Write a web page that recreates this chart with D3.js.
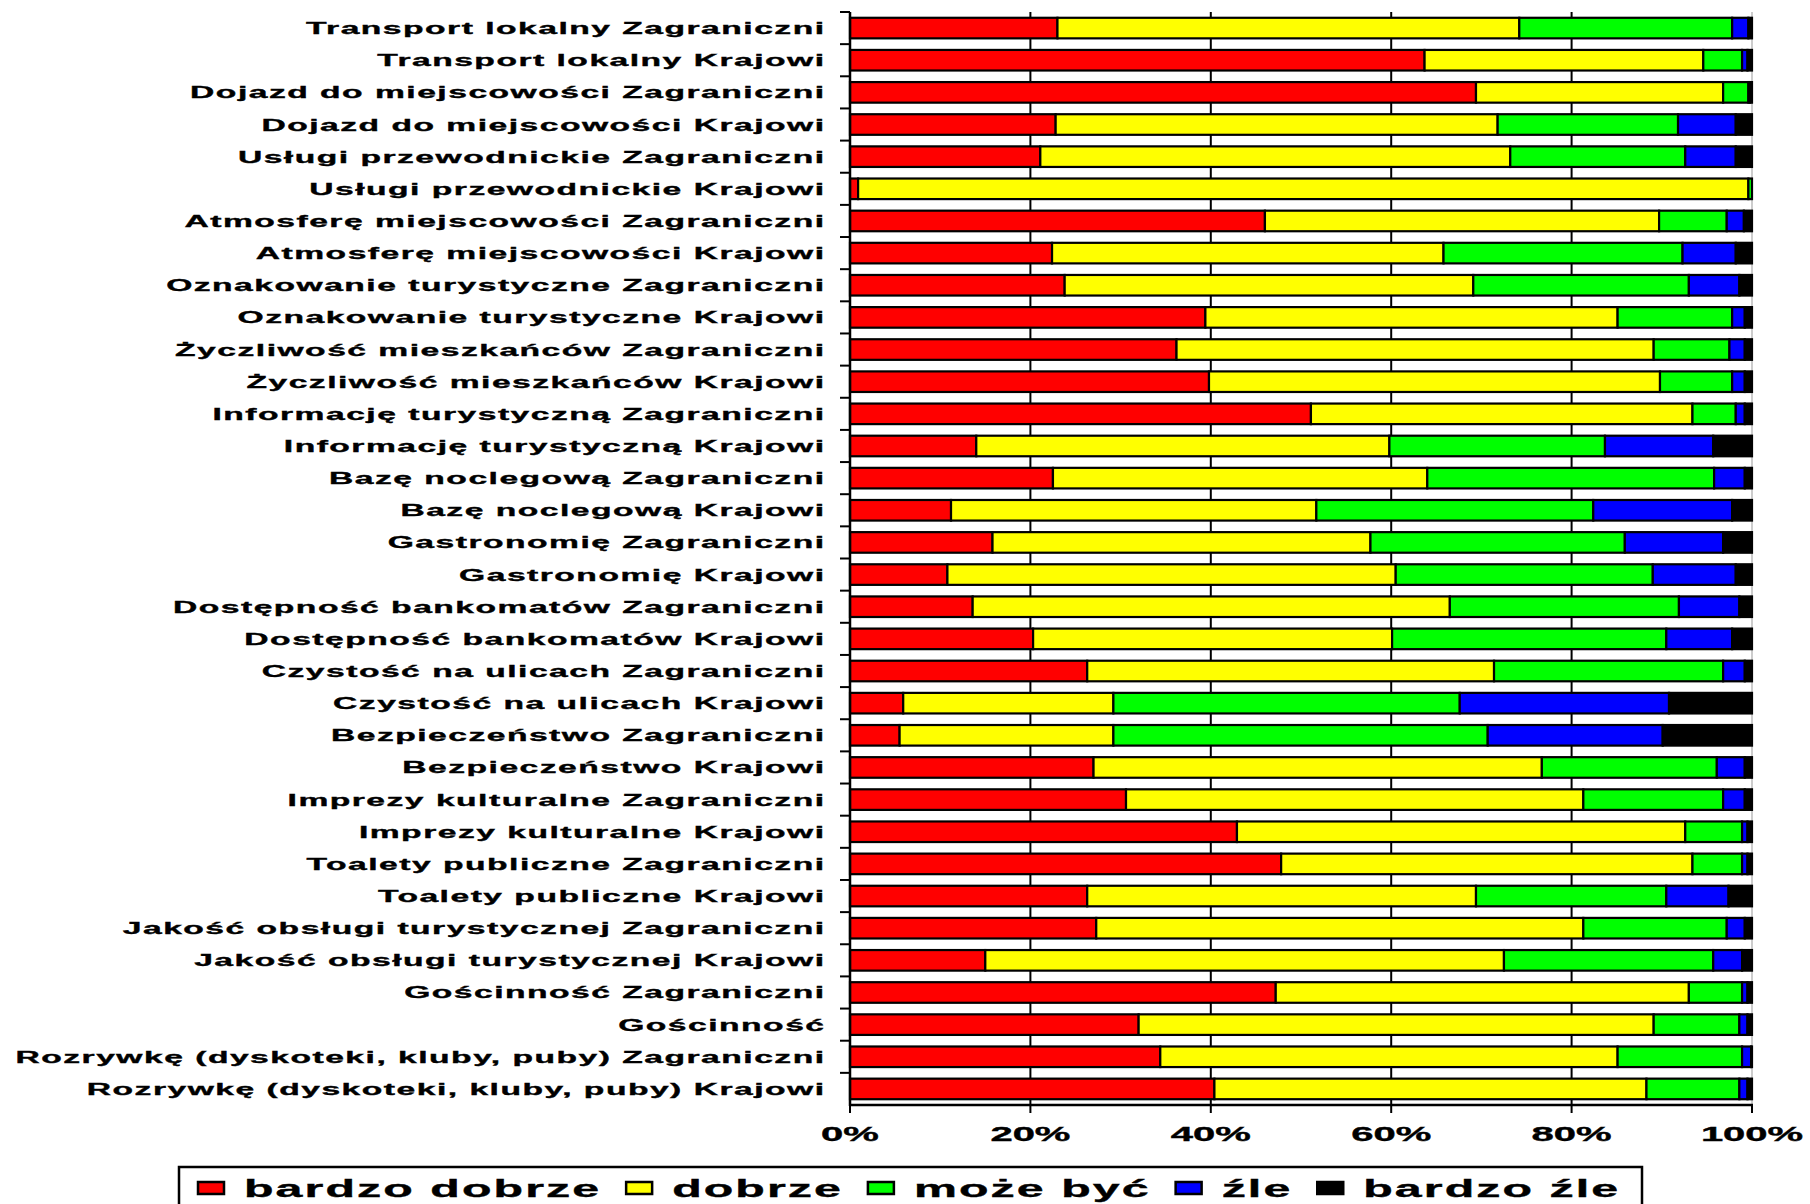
<!DOCTYPE html>
<html>
<head>
<meta charset="utf-8">
<script src="https://cdn.jsdelivr.net/npm/d3@7"></script>
<style>
  html, body { margin: 0; padding: 0; background: #fff; }
  svg { display: block; }
  text { font-family: "Liberation Sans", Arial, sans-serif; font-weight: bold; fill: #000; stroke: #000; stroke-width: 0.35px; }
</style>
</head>
<body>
<svg id="chart" width="1810" height="1204"></svg>
<script>
// ---------------- DATA ----------------
const categories = [
  "Transport lokalny Zagraniczni",
  "Transport lokalny Krajowi",
  "Dojazd do miejscowości Zagraniczni",
  "Dojazd do miejscowości Krajowi",
  "Usługi przewodnickie Zagraniczni",
  "Usługi przewodnickie Krajowi",
  "Atmosferę miejscowości Zagraniczni",
  "Atmosferę miejscowości Krajowi",
  "Oznakowanie turystyczne Zagraniczni",
  "Oznakowanie turystyczne Krajowi",
  "Życzliwość mieszkańców Zagraniczni",
  "Życzliwość mieszkańców Krajowi",
  "Informację turystyczną Zagraniczni",
  "Informację turystyczną Krajowi",
  "Bazę noclegową Zagraniczni",
  "Bazę noclegową Krajowi",
  "Gastronomię Zagraniczni",
  "Gastronomię Krajowi",
  "Dostępność bankomatów Zagraniczni",
  "Dostępność bankomatów Krajowi",
  "Czystość na ulicach Zagraniczni",
  "Czystość na ulicach Krajowi",
  "Bezpieczeństwo Zagraniczni",
  "Bezpieczeństwo Krajowi",
  "Imprezy kulturalne Zagraniczni",
  "Imprezy kulturalne Krajowi",
  "Toalety publiczne Zagraniczni",
  "Toalety publiczne Krajowi",
  "Jakość obsługi turystycznej Zagraniczni",
  "Jakość obsługi turystycznej Krajowi",
  "Gościnność Zagraniczni",
  "Gościnność",
  "Rozrywkę (dyskoteki, kluby, puby) Zagraniczni",
  "Rozrywkę (dyskoteki, kluby, puby) Krajowi"
];

const bardzoDobrze = [23.0, 63.7, 69.4, 22.8, 21.1, 0.9, 46.0, 22.4, 23.8, 39.4, 36.2, 39.8, 51.1, 14.0, 22.5, 11.2, 15.8, 10.8, 13.6, 20.3, 26.3, 5.9, 5.5, 27.0, 30.6, 42.9, 47.8, 26.3, 27.3, 15.0, 47.2, 32.0, 34.4, 40.4];
const dobrze       = [51.2, 30.9, 27.4, 49.0, 52.1, 98.7, 43.7, 43.4, 45.3, 45.7, 52.9, 50.0, 42.3, 45.8, 41.5, 40.5, 41.9, 49.7, 52.9, 39.8, 45.1, 23.3, 23.7, 49.7, 50.7, 49.7, 45.6, 43.1, 54.0, 57.5, 45.8, 57.1, 50.7, 47.9];
const mozeByc      = [23.6, 4.3, 2.8, 20.0, 19.4, 0.4, 7.5, 26.5, 23.9, 12.7, 8.4, 8.0, 4.8, 23.9, 31.8, 30.7, 28.2, 28.5, 25.4, 30.4, 25.4, 38.4, 41.5, 19.4, 15.5, 6.3, 5.5, 21.1, 15.9, 23.2, 5.9, 9.5, 13.8, 10.3];
const zle          = [1.8, 0.6, 0.2, 6.4, 5.6, 0.0, 1.9, 5.9, 5.6, 1.4, 1.7, 1.4, 1.0, 12.0, 3.4, 15.4, 10.9, 9.2, 6.7, 7.3, 2.4, 23.2, 19.4, 3.1, 2.4, 0.6, 0.6, 6.9, 2.0, 3.2, 0.6, 0.9, 1.0, 0.9];
const bardzoZle    = [0.4, 0.5, 0.2, 1.8, 1.8, 0.0, 0.9, 1.8, 1.4, 0.8, 0.8, 0.8, 0.8, 4.3, 0.8, 2.2, 3.2, 1.8, 1.4, 2.2, 0.8, 9.2, 9.9, 0.8, 0.8, 0.5, 0.5, 2.6, 0.8, 1.1, 0.5, 0.5, 0.1, 0.5];

const seriesNames  = ["bardzo dobrze", "dobrze", "może być", "źle", "bardzo źle"];
const seriesColors = ["#FF0000", "#FFFF00", "#00FF00", "#0000FF", "#000000"];
const tickValues   = [0, 0.2, 0.4, 0.6, 0.8, 1.0];
const tickLabels   = ["0%", "20%", "40%", "60%", "80%", "100%"];

// ---------------- LAYOUT ----------------
const svg = d3.select("#chart");
const plot = { left: 850, right: 1752, top: 12, bottom: 1105 };
const SX = 2.1; // horizontal stretch of the original rendering

const seriesArrays = [bardzoDobrze, dobrze, mozeByc, zle, bardzoZle];
const rows = categories.map((c, i) => {
  const r = { cat: c };
  seriesNames.forEach((s, k) => { r[s] = seriesArrays[k][i]; });
  return r;
});

const stack = d3.stack().keys(seriesNames).offset(d3.stackOffsetExpand);
const stacked = stack(rows);

const x = d3.scaleLinear().domain([0, 1]).range([plot.left, plot.right]);
const y = d3.scaleBand().domain(categories).range([plot.top, plot.bottom])
  .paddingInner(0.36).paddingOuter(0.18);
const color = d3.scaleOrdinal().domain(seriesNames).range(seriesColors);

// vertical gridlines
svg.append("g").selectAll("line").data(tickValues.slice(1, 5)).join("line")
  .attr("x1", d => x(d)).attr("x2", d => x(d))
  .attr("y1", plot.top).attr("y2", plot.bottom)
  .attr("stroke", "#000").attr("stroke-width", 2);
// light right border of plot area
svg.append("line")
  .attr("x1", x(1)).attr("x2", x(1)).attr("y1", plot.top).attr("y2", plot.bottom)
  .attr("stroke", "#bbb").attr("stroke-width", 1.5);

// bars
svg.append("g").selectAll("g").data(stacked).join("g")
  .attr("fill", d => color(d.key))
  .selectAll("rect").data(d => d).join("rect")
  .attr("x", d => x(d[0]))
  .attr("y", d => y(d.data.cat))
  .attr("width", d => Math.max(0, x(d[1]) - x(d[0])))
  .attr("height", y.bandwidth())
  .attr("stroke", "#000").attr("stroke-width", 2.2);

// y axis line + ticks between categories
const yAxis = svg.append("g");
yAxis.append("line")
  .attr("x1", plot.left).attr("x2", plot.left)
  .attr("y1", plot.top).attr("y2", plot.bottom + 1)
  .attr("stroke", "#000").attr("stroke-width", 2.5);
const boundaries = categories.map(c => y(c) - y.step() * y.paddingOuter());
yAxis.selectAll("line.tk").data(boundaries).join("line").attr("class", "tk")
  .attr("x1", plot.left - 10).attr("x2", plot.left)
  .attr("y1", d => d).attr("y2", d => d)
  .attr("stroke", "#000").attr("stroke-width", 2);

// category labels
const lsLab = 0.72;
yAxis.selectAll("text").data(categories).join("text")
  .attr("transform", d => `translate(${824 + lsLab * SX},${y(d) + y.bandwidth() / 2 + 6}) scale(${SX},1)`)
  .attr("text-anchor", "end")
  .style("font-size", "16px")
  .style("letter-spacing", lsLab + "px")
  .text(d => d);

// x axis
const xAxis = svg.append("g");
xAxis.append("line")
  .attr("x1", plot.left - 1).attr("x2", plot.right + 1)
  .attr("y1", plot.bottom).attr("y2", plot.bottom)
  .attr("stroke", "#000").attr("stroke-width", 2.5);
xAxis.selectAll("line.tk").data(tickValues).join("line").attr("class", "tk")
  .attr("x1", d => x(d)).attr("x2", d => x(d))
  .attr("y1", plot.bottom).attr("y2", plot.bottom + 8)
  .attr("stroke", "#000").attr("stroke-width", 2);
const SXT = 2.05;
xAxis.selectAll("text").data(tickValues).join("text")
  .attr("transform", d => `translate(${x(d)},1140.7) scale(${SXT},1)`)
  .attr("text-anchor", "middle")
  .style("font-size", "19.5px")
  .text((d, i) => tickLabels[i]);

// legend
const leg = svg.append("g");
leg.append("rect")
  .attr("x", 179).attr("y", 1167).attr("width", 1463).attr("height", 60)
  .attr("fill", "#fff").attr("stroke", "#000").attr("stroke-width", 2.5);
const lsLeg = 1.0;
let cx = 198;
seriesNames.forEach((s, i) => {
  leg.append("rect")
    .attr("x", cx).attr("y", 1182).attr("width", 26).attr("height", 12)
    .attr("fill", color(s)).attr("stroke", "#000").attr("stroke-width", 2.5);
  const t = leg.append("text")
    .attr("transform", `translate(${cx + 46},1196.7) scale(${SX},1)`)
    .style("font-size", "23px")
    .style("letter-spacing", lsLeg + "px")
    .text(s);
  const w = t.node().getComputedTextLength() * SX;
  cx = cx + 46 + w - lsLeg * SX + 27;
});
</script>
</body>
</html>
